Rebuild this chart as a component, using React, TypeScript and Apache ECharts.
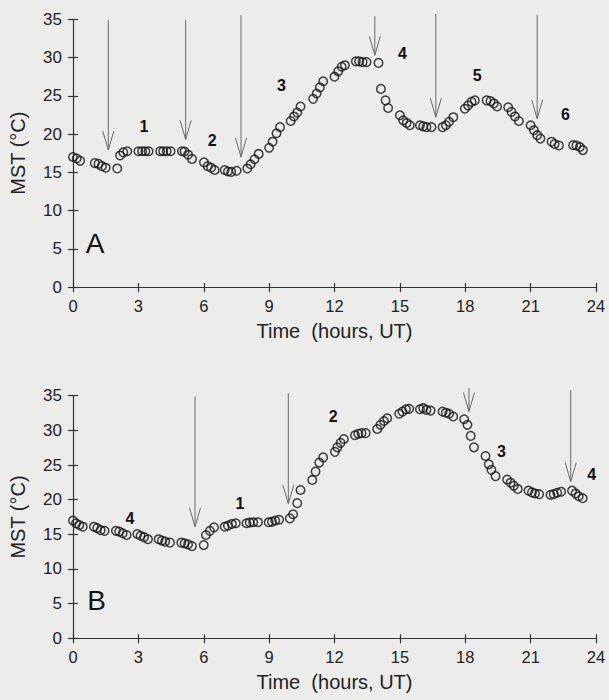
import React, { useEffect, useRef } from "react";
import * as echarts from "echarts";

// Panel A: hours (UT) and MST (°C)
const aTimes = [0.0, 0.17, 0.33, 1.0, 1.17, 1.33, 1.5, 2.03, 2.16, 2.31, 2.49, 3.0, 3.17, 3.32, 3.47, 4.0, 4.14, 4.3, 4.48, 5.0, 5.12, 5.28, 5.46, 6.01, 6.18, 6.34, 6.5, 6.96, 7.11, 7.26, 7.51, 8.0, 8.15, 8.33, 8.52, 9.0, 9.16, 9.34, 9.5, 9.99, 10.14, 10.29, 10.44, 11.02, 11.18, 11.33, 11.48, 12.0, 12.17, 12.33, 12.48, 12.98, 13.13, 13.29, 13.47, 14.02, 14.13, 14.34, 14.46, 15.0, 15.15, 15.31, 15.46, 15.92, 16.07, 16.22, 16.45, 16.96, 17.11, 17.26, 17.45, 17.98, 18.13, 18.29, 18.44, 18.98, 19.16, 19.31, 19.46, 19.97, 20.12, 20.28, 20.46, 21.0, 21.15, 21.3, 21.45, 21.96, 22.1, 22.3, 22.95, 23.1, 23.26, 23.4];
const aValues = [17.0, 16.8, 16.5, 16.2, 16.1, 15.8, 15.6, 15.5, 17.2, 17.6, 17.75, 17.75, 17.75, 17.75, 17.75, 17.75, 17.75, 17.75, 17.75, 17.75, 17.7, 17.3, 16.75, 16.3, 15.8, 15.6, 15.3, 15.3, 15.1, 15.05, 15.2, 15.5, 16.05, 16.7, 17.4, 18.2, 19.0, 20.1, 20.9, 21.7, 22.3, 22.8, 23.6, 24.6, 25.3, 26.1, 26.9, 27.5, 28.2, 28.8, 29.0, 29.5, 29.5, 29.4, 29.4, 29.3, 25.9, 24.4, 23.4, 22.45, 21.8, 21.45, 21.15, 21.15, 21.0, 20.9, 20.9, 20.9, 21.15, 21.6, 22.2, 23.3, 23.75, 24.2, 24.4, 24.4, 24.3, 24.0, 23.6, 23.5, 22.9, 22.3, 21.7, 21.15, 20.5, 19.85, 19.4, 19.0, 18.7, 18.5, 18.55, 18.5, 18.3, 17.9];

// Panel B
const bTimes = [0.0, 0.14, 0.29, 0.45, 0.96, 1.11, 1.27, 1.45, 1.97, 2.12, 2.28, 2.46, 2.95, 3.1, 3.26, 3.44, 3.93, 4.08, 4.23, 4.45, 4.97, 5.12, 5.28, 5.46, 6.0, 6.1, 6.28, 6.47, 6.96, 7.11, 7.29, 7.47, 7.96, 8.11, 8.27, 8.49, 8.98, 9.13, 9.28, 9.46, 9.95, 10.1, 10.29, 10.44, 10.98, 11.13, 11.3, 11.48, 12.02, 12.13, 12.28, 12.43, 12.94, 13.09, 13.24, 13.43, 13.96, 14.11, 14.27, 14.42, 14.97, 15.12, 15.28, 15.43, 15.92, 16.07, 16.22, 16.41, 16.96, 17.11, 17.26, 17.45, 17.95, 18.1, 18.25, 18.4, 18.93, 19.08, 19.2, 19.39, 19.92, 20.08, 20.23, 20.41, 20.9, 21.06, 21.2, 21.39, 21.91, 22.06, 22.22, 22.4, 22.9, 23.06, 23.21, 23.39];
const bValues = [17.0, 16.6, 16.35, 16.1, 16.1, 15.9, 15.6, 15.5, 15.5, 15.4, 15.15, 14.9, 15.05, 14.8, 14.6, 14.3, 14.3, 14.1, 13.95, 13.8, 13.8, 13.7, 13.55, 13.3, 13.45, 14.9, 15.5, 16.0, 16.1, 16.25, 16.5, 16.6, 16.6, 16.7, 16.75, 16.75, 16.75, 16.8, 17.0, 17.1, 17.3, 17.9, 19.5, 21.4, 22.85, 24.05, 25.35, 26.1, 26.9, 27.55, 28.2, 28.75, 29.3, 29.5, 29.6, 29.6, 30.2, 30.8, 31.35, 31.75, 32.4, 32.7, 33.05, 33.1, 33.05, 33.2, 32.95, 32.85, 32.7, 32.55, 32.4, 32.0, 31.6, 30.8, 29.2, 27.55, 26.3, 25.1, 24.3, 23.4, 22.9, 22.45, 22.0, 21.55, 21.3, 21.05, 20.9, 20.8, 20.7, 20.8, 21.0, 21.15, 21.3, 20.9, 20.5, 20.2];

// Arrows: [hour, top value, tip value]
const aArrows = [[1.62, 34.9, 17.9], [5.17, 34.9, 19.3], [7.71, 35.55, 17.0], [13.85, 35.4, 30.3], [16.65, 35.7, 22.2], [21.3, 35.55, 22.0]];
const bArrows = [[5.6, 34.9, 16.1], [9.88, 35.35, 19.4], [18.17, 36.1, 32.7], [22.84, 35.8, 22.6]];

// Phase labels: [hour, value, text]
const aLabels = [[3.26, 20.95, "1"], [6.39, 19.2, "2"], [9.57, 26.4, "3"], [15.12, 30.5, "4"], [18.55, 27.6, "5"], [22.6, 22.5, "6"]];
const bLabels = [[2.61, 17.3, "4"], [7.66, 19.5, "1"], [11.94, 32.0, "2"], [19.66, 26.9, "3"], [23.8, 23.6, "4"]];

// Panel letters
const aLetter = [[1.01, 5.75, "A"]];
const bLetter = [[1.08, 5.5, "B"]];

const xTicksMax = 24;
const yMax = 35;
const FONT = "'Liberation Sans', Arial, sans-serif";
const AXIS = "#333";

function App() {
  const ref = useRef<HTMLDivElement>(null);
  useEffect(() => {
    document.body.style.margin = "0";
    const chart = echarts.init(ref.current!, null, { renderer: "svg" });

    const grids = [
      { left: 73, top: 19.3, width: 523, height: 267.7 },
      { left: 73, top: 395.7, width: 523, height: 242.6 },
    ];

    const mainX = (gi: number) => ({
      type: "value", gridIndex: gi, min: 0, max: xTicksMax, interval: 3,
      name: "Time  (hours, UT)", nameLocation: "middle", nameGap: 34,
      nameTextStyle: { fontFamily: FONT, fontSize: 20, color: "#222" },
      axisLine: { lineStyle: { color: AXIS, width: 1.2 } },
      axisTick: { show: true, inside: false, length: 5, lineStyle: { color: AXIS, width: 1.2 } },
      axisLabel: { margin: 10, fontFamily: FONT, fontSize: 16.5, color: "#222" },
      splitLine: { show: false },
    });
    const innerX = (gi: number) => ({
      type: "value", gridIndex: gi, min: 0, max: xTicksMax, interval: 3, position: "bottom",
      axisLine: { show: false },
      axisTick: { show: true, inside: true, length: 4, lineStyle: { color: AXIS, width: 1.2 } },
      axisLabel: { show: false }, splitLine: { show: false },
    });
    const mainY = (gi: number) => ({
      type: "value", gridIndex: gi, min: 0, max: yMax, interval: 5,
      name: "MST (°C)", nameLocation: "middle", nameGap: 45,
      nameTextStyle: { fontFamily: FONT, fontSize: 20, color: "#222" },
      axisLine: { show: true, lineStyle: { color: AXIS, width: 1.2 } },
      axisTick: { show: true, inside: false, length: 5, lineStyle: { color: AXIS, width: 1.2 } },
      axisLabel: { margin: 11, fontFamily: FONT, fontSize: 17, color: "#222" },
      splitLine: { show: false },
    });
    const innerY = (gi: number) => ({
      type: "value", gridIndex: gi, min: 0, max: yMax, interval: 5, position: "left",
      axisLine: { show: false },
      axisTick: { show: true, inside: true, length: 5, lineStyle: { color: AXIS, width: 1.2 } },
      axisLabel: { show: false }, splitLine: { show: false },
    });

    const scatter = (times: number[], vals: number[], gi: number) => ({
      type: "scatter", xAxisIndex: gi * 2, yAxisIndex: gi * 2,
      data: times.map((t, i) => [t, vals[i]]),
      symbol: "circle", symbolSize: 8.5,
      itemStyle: { color: "rgba(0,0,0,0)", borderColor: "#111", borderWidth: 1.5 },
      z: 3,
    });

    const arrows = (data: number[][], gi: number) => ({
      type: "custom", xAxisIndex: gi * 2, yAxisIndex: gi * 2, clip: false,
      data,
      renderItem: (params: any, api: any) => {
        const x = api.value(0);
        const top = api.coord([x, api.value(1)]);
        const tip = api.coord([x, api.value(2)]);
        return {
          type: "group",
          children: [
            { type: "line", shape: { x1: top[0], y1: top[1], x2: tip[0], y2: tip[1] }, style: { stroke: "#6a6a6a", lineWidth: 1 } },
            { type: "polyline", shape: { points: [[tip[0] - 5.5, tip[1] - 19], [tip[0], tip[1]], [tip[0] + 5.5, tip[1] - 19]] }, style: { stroke: "#6a6a6a", fill: null, lineWidth: 1 } },
          ],
        };
      },
      z: 2,
    });

    const texts = (data: any[][], gi: number, size: number, weight: string) => ({
      type: "custom", xAxisIndex: gi * 2, yAxisIndex: gi * 2, clip: false,
      data,
      renderItem: (params: any, api: any) => {
        const p = api.coord([api.value(0), api.value(1)]);
        const d = data[params.dataIndex];
        return {
          type: "text", x: p[0], y: p[1],
          style: { text: String(d[2]), font: `${weight} ${size}px ${FONT}`, fill: "#111", align: "center", verticalAlign: "middle" },
        };
      },
      z: 4,
    });

    chart.setOption({
      animation: false,
      backgroundColor: "#ececea",
      grid: grids,
      xAxis: [mainX(0), innerX(0), mainX(1), innerX(1)],
      yAxis: [mainY(0), innerY(0), mainY(1), innerY(1)],
      series: [
        scatter(aTimes, aValues, 0),
        scatter(bTimes, bValues, 1),
        arrows(aArrows, 0),
        arrows(bArrows, 1),
        texts(aLabels, 0, 16, "bold"),
        texts(bLabels, 1, 16, "bold"),
        texts(aLetter, 0, 28, "normal"),
        texts(bLetter, 1, 28, "normal"),
      ],
    });
    return () => chart.dispose();
  }, []);
  return <div ref={ref} style={{ width: 609, height: 700 }} />;
}

export default App;
